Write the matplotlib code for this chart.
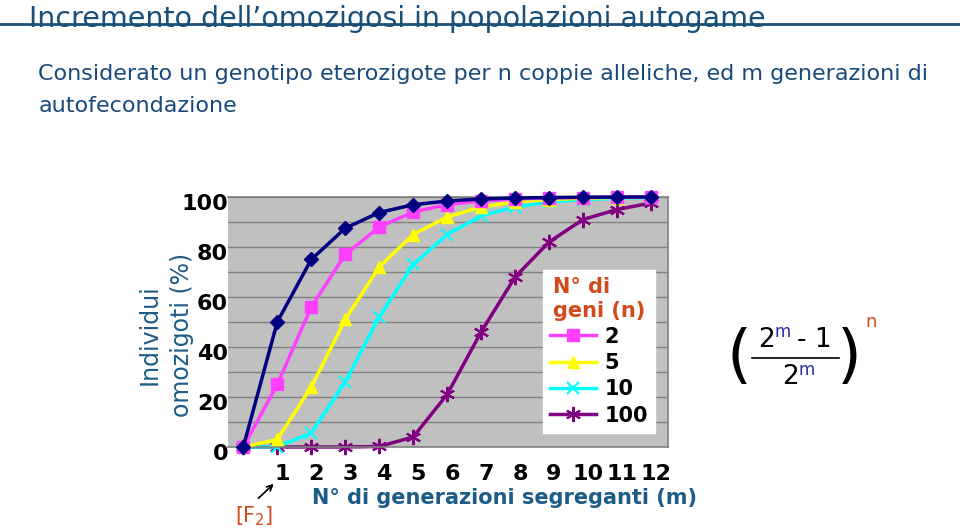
import numpy as np
import matplotlib.pyplot as plt
import matplotlib.transforms as mtransforms
from matplotlib.lines import Line2D

# generations of selfing (m) and % homozygous individuals for n genes
m_gen = [0, 1, 2, 3, 4, 5, 6, 7, 8, 9, 10, 11, 12]
n1 = [0, 50, 75, 87.5, 93.8, 96.9, 98.4, 99.2, 99.6, 99.8, 99.9, 100, 100]
n2 = [0, 25, 56, 77, 88, 94, 97, 98.4, 99.2, 99.6, 99.8, 99.9, 100]
n5 = [0, 3, 24, 51, 72, 85, 92, 96, 98, 99, 99.5, 99.8, 99.9]
n10 = [0, 0.1, 5.6, 26, 52, 73, 85, 92.5, 96, 98, 99, 99.5, 99.8]
n100 = [0, 0, 0, 0, 0.2, 4, 21, 46, 68, 82, 91, 95, 97.6]
x_ticklabels = ['', '1', '2', '3', '4', '5', '6', '7', '8', '9', '10', '11', '12']
y_ticks = [0, 20, 40, 60, 80, 100]

title_col = '#1a4f78'
lab_col = '#1d5c86'
red_col = '#d24a1c'

fig = plt.figure(figsize=(9.6, 5.31), dpi=100)

# title + rule
fig.text(0.03, 0.965, "Incremento dell\u2019omozigosi in popolazioni autogame",
         fontsize=20.5, color=title_col, va='center', ha='left')
fig.add_artist(Line2D([0.0, 1.0], [0.955, 0.955], color=title_col, lw=2,
                      transform=fig.transFigure))
fig.text(0.04, 0.860, "Considerato un genotipo eterozigote per n coppie alleliche, ed m generazioni di",
         fontsize=16, color='#17497a', va='center', ha='left')
fig.text(0.04, 0.800, "autofecondazione",
         fontsize=16, color='#17497a', va='center', ha='left')

ax = fig.add_axes([0.2375, 0.1582, 0.4583, 0.4708])
ax.set_facecolor('#c0c0c0')
ax.set_xlim(-0.45, 12.5)
ax.set_ylim(0, 100)
ax.set_yticks(np.arange(0, 101, 10), minor=True)
ax.yaxis.grid(True, which='both', color='#808080', lw=1)
ax.set_axisbelow(True)
ax.spines['left'].set_visible(False)
for s in ['top', 'right', 'bottom']:
    ax.spines[s].set_color('#808080')
    ax.spines[s].set_linewidth(1.2)

ax.plot(m_gen, n1, color='#000080', lw=2.5, marker='D', ms=7, clip_on=False, zorder=5)
ax.plot(m_gen, n2, color='#ff40ff', lw=2.5, marker='s', ms=8, clip_on=False, zorder=4, label='2')
ax.plot(m_gen, n5, color='#ffff00', lw=2.5, marker='^', ms=9, clip_on=False, zorder=3, label='5')
ax.plot(m_gen, n10, color='#00ffff', lw=2.5, marker='x', ms=9, mew=1.5, clip_on=False, zorder=2, label='10')
ax.plot(m_gen, n100, color='#800080', lw=2.5, marker=(6, 2, 0), ms=11, mew=1.5, clip_on=False, zorder=1, label='100')

ax.set_xticks(m_gen)
ax.set_xticklabels(x_ticklabels, fontsize=16, fontweight='bold')
ax.tick_params(axis='x', which='both', length=0, pad=12)
ax.set_yticks(y_ticks)
ax.set_yticklabels([str(v) for v in y_ticks], fontsize=16, fontweight='bold')
ax.tick_params(axis='y', which='both', length=0, pad=0)
# nudge tick labels like the original slide
dx = mtransforms.ScaledTranslation(5 / 100, 0, fig.dpi_scale_trans)
for lab in ax.get_xticklabels():
    lab.set_transform(lab.get_transform() + dx)
dy = mtransforms.ScaledTranslation(0, -5 / 100, fig.dpi_scale_trans)
for lab in ax.get_yticklabels():
    lab.set_transform(lab.get_transform() + dy)

fig.text(505 / 960, 1 - 498 / 531, "N\u00b0 di generazioni segreganti (m)", fontsize=15,
         fontweight='bold', color=lab_col, ha='center', va='center')
fig.text(150 / 960, 1 - 335 / 531, "Individui", fontsize=17, color=lab_col,
         ha='center', va='center', rotation=90)
fig.text(182 / 960, 1 - 335 / 531, "omozigoti (%)", fontsize=17, color=lab_col,
         ha='center', va='center', rotation=90)

leg = ax.legend(loc='lower right', bbox_to_anchor=(0.995, 0.015), frameon=True,
                fancybox=False, framealpha=1, edgecolor='white', fontsize=15,
                handlelength=2.2, handletextpad=0.4, labelspacing=0.3,
                borderpad=0.35, markerfirst=True)
leg.set_title("N\u00b0 di\ngeni (n)", prop={'size': 15, 'weight': 'bold'})
leg.get_title().set_color(red_col)
for t in leg.get_texts():
    t.set_fontweight('bold')

# [F2] note
fig.text(0.265, 0.028, "[F$_2$]", fontsize=15, color=red_col, ha='center', va='center')
fig.add_artist(plt.annotate('', xy=(0.287, 0.092), xytext=(0.267, 0.058),
                            xycoords='figure fraction',
                            arrowprops=dict(arrowstyle='->', color='black', lw=1)))

# formula
fy = 0.326
fig.text(0.770, fy, "(", fontsize=46, color='black', ha='center', va='center')
fig.text(0.885, fy, ")", fontsize=46, color='black', ha='center', va='center')
fig.text(0.907, 0.394, "n", fontsize=13, color=red_col, ha='center', va='center')
fig.text(0.798, 0.360, "2", fontsize=19, color='black', ha='center', va='center')
fig.text(0.815, 0.374, "m", fontsize=12, color='#2a2a9a', ha='center', va='center')
fig.text(0.848, 0.360, "- 1", fontsize=19, color='black', ha='center', va='center')
fig.add_artist(Line2D([0.783, 0.874], [0.326, 0.326], color='black', lw=1.2,
                      transform=fig.transFigure))
fig.text(0.823, 0.290, "2", fontsize=19, color='black', ha='center', va='center')
fig.text(0.840, 0.304, "m", fontsize=12, color='#2a2a9a', ha='center', va='center')

fig.savefig('out.png', dpi=100)
